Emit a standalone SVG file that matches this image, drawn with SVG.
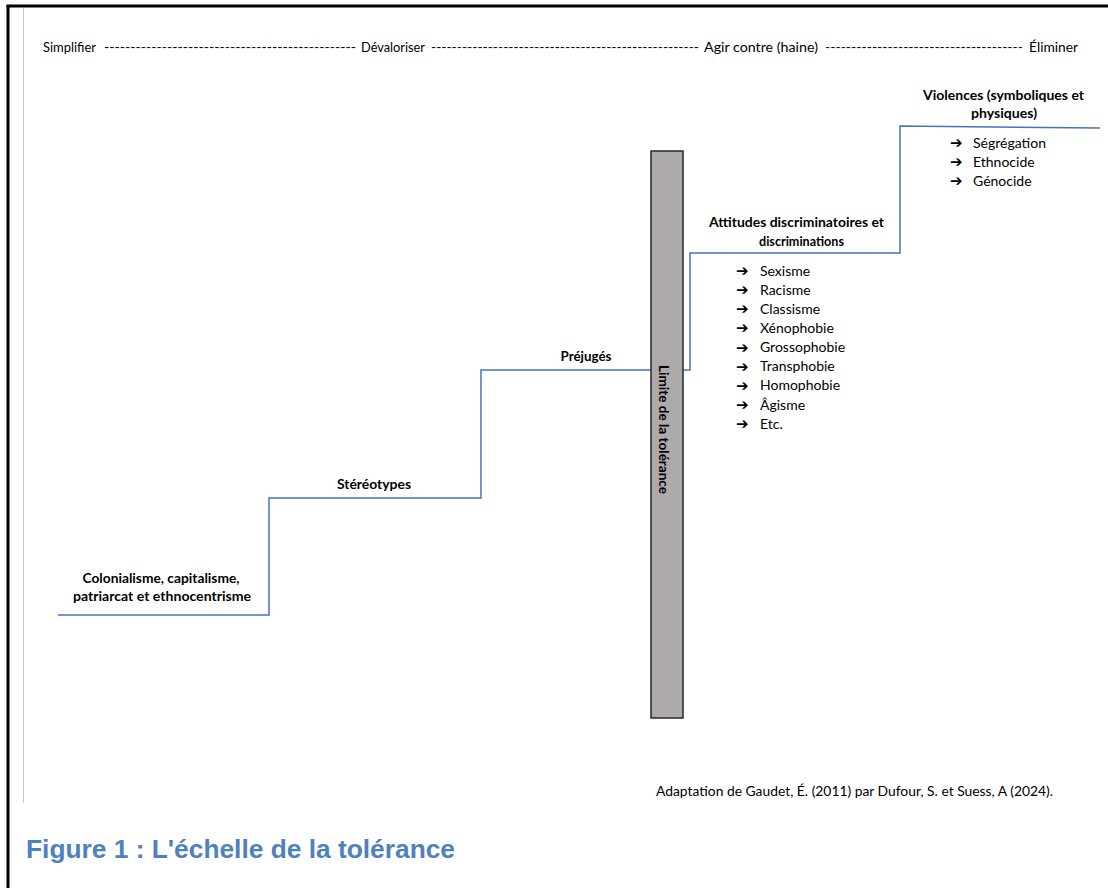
<svg xmlns="http://www.w3.org/2000/svg" width="1108" height="888" viewBox="0 0 1108 888">
  <style>
    .t { font-family: Lato, "Open Sans", "Liberation Sans", sans-serif; fill: #000; }
    .r { font-size: 13.5px; font-weight: normal; }
    .l { font-size: 14px; font-weight: normal; }
    .b { font-size: 13.5px; font-weight: bold; }
    .c { text-anchor: middle; }
    .arr { font-family: "DejaVu Sans", sans-serif; font-size: 15px; font-weight: bold; fill: #000; }
    .step { fill: none; stroke: #4472c4; stroke-width: 1.5; }
    .cap { font-family: "Liberation Sans", Arial, sans-serif; font-size: 26px; font-weight: bold; fill: #4f81bd; }
  </style>

  <rect x="0" y="0" width="1108" height="888" fill="#fff"/>

  <!-- page frame -->
  <g id="frame">
    <line x1="8" y1="5" x2="8" y2="888" stroke="#000" stroke-width="3"/>
    <line x1="6.5" y1="6" x2="1108" y2="6" stroke="#000" stroke-width="3"/>
    <line x1="23.5" y1="8" x2="23.5" y2="803" stroke="#c8c8c8" stroke-width="1"/>
  </g>

  <!-- scale header -->
  <g id="scale-header">
    <text class="t r" x="43" y="52" textLength="53" lengthAdjust="spacingAndGlyphs">Simplifier</text>
    <text class="t r" x="104" y="52" textLength="252" lengthAdjust="spacingAndGlyphs">------------------------------------------------</text>
    <text class="t r" x="361" y="52" textLength="64" lengthAdjust="spacingAndGlyphs">Dévaloriser</text>
    <text class="t r" x="431" y="52" textLength="268" lengthAdjust="spacingAndGlyphs">----------------------------------------------------</text>
    <text class="t r" x="704" y="52" textLength="114" lengthAdjust="spacingAndGlyphs">Agir contre (haine)</text>
    <text class="t r" x="825" y="52" textLength="198" lengthAdjust="spacingAndGlyphs">--------------------------------------</text>
    <text class="t r" x="1029" y="52" textLength="49" lengthAdjust="spacingAndGlyphs">Éliminer</text>
  </g>

  <!-- connectors: staircase -->
  <g id="connectors">
    <path class="step" d="M58,615 H269 V498 H481 V370 H651"/>
    <path class="step" d="M683,370 H690 V253 H900 V126 L1100,128"/>
  </g>

  <g id="step-colonialisme">
    <text class="t b c" x="161" y="582.5" textLength="157" lengthAdjust="spacingAndGlyphs">Colonialisme, capitalisme,</text>
    <text class="t b c" x="162" y="600.5" textLength="178" lengthAdjust="spacingAndGlyphs">patriarcat et ethnocentrisme</text>
  </g>

  <g id="step-stereotypes">
    <text class="t b c" x="374" y="488.5" textLength="74" lengthAdjust="spacingAndGlyphs">Stéréotypes</text>
  </g>

  <g id="step-prejuges">
    <text class="t b c" x="586" y="360.5" textLength="51" lengthAdjust="spacingAndGlyphs">Préjugés</text>
  </g>

  <g id="limite-tolerance">
    <rect x="651" y="151" width="32" height="567" fill="#aeaaaa" stroke="#262626" stroke-width="1.5"/>
    <text class="t b c" transform="translate(659,429.5) rotate(90)" x="0" y="0" textLength="129" lengthAdjust="spacingAndGlyphs">Limite de la tolérance</text>
  </g>

  <g id="step-attitudes">
    <text class="t b" x="709" y="227" textLength="175" lengthAdjust="spacingAndGlyphs">Attitudes discriminatoires et</text>
    <text class="t b" x="759" y="245.5" textLength="85" lengthAdjust="spacingAndGlyphs">discriminations</text>
    <g id="list-discriminations">
      <text class="arr" x="736" y="276">➔</text><text class="t l" x="760" y="275.5">Sexisme</text>
      <text class="arr" x="736" y="295.1">➔</text><text class="t l" x="760" y="294.6">Racisme</text>
      <text class="arr" x="736" y="314.3">➔</text><text class="t l" x="760" y="313.8">Classisme</text>
      <text class="arr" x="736" y="333.4">➔</text><text class="t l" x="760" y="332.9">Xénophobie</text>
      <text class="arr" x="736" y="352.6">➔</text><text class="t l" x="760" y="352.1">Grossophobie</text>
      <text class="arr" x="736" y="371.7">➔</text><text class="t l" x="760" y="371.2">Transphobie</text>
      <text class="arr" x="736" y="390.9">➔</text><text class="t l" x="760" y="390.4">Homophobie</text>
      <text class="arr" x="736" y="410">➔</text><text class="t l" x="760" y="409.5">Âgisme</text>
      <text class="arr" x="736" y="429.2">➔</text><text class="t l" x="760" y="428.7">Etc.</text>
    </g>
  </g>

  <g id="step-violences">
    <text class="t b" x="923" y="100" textLength="161" lengthAdjust="spacingAndGlyphs">Violences (symboliques et</text>
    <text class="t b" x="971" y="118" textLength="66" lengthAdjust="spacingAndGlyphs">physiques)</text>
    <g id="list-violences">
      <text class="arr" x="950" y="148">➔</text><text class="t l" x="973" y="147.5">Ségrégation</text>
      <text class="arr" x="950" y="167">➔</text><text class="t l" x="973" y="166.5">Ethnocide</text>
      <text class="arr" x="950" y="186">➔</text><text class="t l" x="973" y="185.5">Génocide</text>
    </g>
  </g>

  <g id="citation">
    <text class="t r" x="656" y="796" textLength="397" lengthAdjust="spacingAndGlyphs">Adaptation de Gaudet, É. (2011) par Dufour, S. et Suess, A (2024).</text>
  </g>

  <g id="caption">
    <text class="cap" x="26" y="858" textLength="429" lengthAdjust="spacingAndGlyphs">Figure 1 : L'échelle de la tolérance</text>
  </g>
</svg>
